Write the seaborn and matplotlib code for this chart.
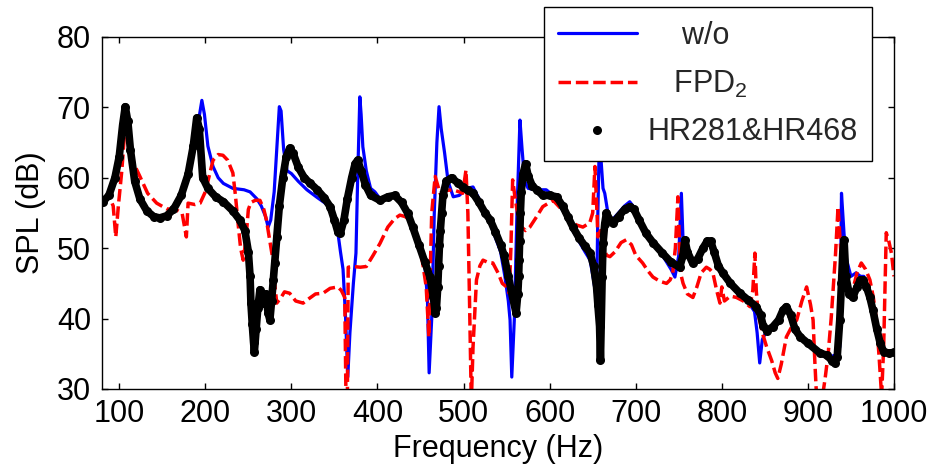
import matplotlib
matplotlib.use("Agg")
import matplotlib.pyplot as plt
import seaborn as sns
from matplotlib.lines import Line2D

# ---------------- data ----------------
freq_wo = [81, 88, 95, 100, 104, 107, 110, 113, 118, 124, 132, 140, 147, 155, 163, 172, 180, 186, 192, 196,
           199, 203, 209, 215, 221, 232, 245, 252, 260, 265, 270, 273, 276, 280, 283, 286, 288, 291, 295, 300,
           308, 318, 330, 345, 350, 354, 357, 360, 363, 365.5, 368, 372, 375, 377, 379.5, 381, 383, 387, 392, 397,
           403, 412, 420, 428, 435, 441, 448, 455, 458, 460, 463, 466, 469, 471.5, 474, 478, 482, 488, 495, 504,
           511, 518, 525, 531, 537, 543, 548, 552, 554, 556, 559, 562, 565.5, 568, 571, 575, 585, 596, 604, 612,
           620, 627, 634, 641, 647, 651, 654.5, 656, 658, 660, 662, 664, 667, 670, 674, 680, 687, 693, 698, 704,
           712, 720, 731, 741, 745.5, 750, 753, 755, 757, 760, 766, 772, 778, 783, 787, 791, 796, 801, 810, 821,
           830, 838, 841, 844, 847, 852, 859, 866, 871, 875, 880, 885, 891, 900, 914, 925, 935, 937, 939, 942,
           945, 950, 956, 961, 965, 968, 972, 975.5, 980, 984, 988, 994, 1000]
spl_wo = [56.6, 57.5, 60, 63, 67.5, 70.3, 68, 64, 59.5, 57, 55.3, 54.5, 54.3, 54.6, 55.5, 57.5, 60.5, 64, 68, 71,
          69, 64.5, 61.6, 60, 59.2, 58.5, 58.3, 58, 57, 56, 54.5, 53, 54, 58, 64, 70.1, 69.5, 64, 61, 60.6,
          59.5, 58.3, 57.2, 55.9, 54, 52.2, 49.5, 47, 40, 31.7, 38, 45, 49.3, 60, 71.5, 69, 64.4, 61, 58.5, 58,
          57, 57.3, 57.5, 56.5, 55, 53, 50.5, 47.5, 43, 32.3, 40, 55, 65, 70.1, 67, 63.5, 59.5, 57.3, 57.5, 58.5,
          58.7, 57, 55, 53.5, 51.5, 49.5, 46, 42.5, 39.8, 31.7, 40, 55, 68.2, 64, 59.5, 58.5, 58.3, 58.3, 57.5, 56,
          54.5, 52.5, 51, 49.5, 48.3, 45.5, 42.6, 55, 67, 62, 58.5, 57.8, 55.5, 54, 54.2, 55, 56, 56.6, 55.8, 54,
          52.1, 50.8, 49, 47, 45.9, 49, 57.8, 51, 50, 49, 47.9, 48.5, 50, 51, 51, 49.5, 47.5, 46.5, 45, 43.6,
          42.5, 41, 38, 33.7, 37, 38.3, 38.8, 39.8, 41.2, 41.7, 40.5, 38.5, 37.4, 36.5, 35.1, 34.5, 35, 36, 57.8, 52,
          48.3, 46, 46.5, 46, 46, 44.5, 43, 41.2, 38.5, 36.5, 35.3, 35.1, 35.2]

freq_fpd = [81, 88, 93, 96, 99, 103, 106, 108, 111, 117, 124, 133, 143.5, 155, 167, 173, 176, 178, 180, 188,
            194, 200, 205, 209, 215, 220.5, 226, 232, 235, 238, 241, 244, 247, 250, 253, 258, 263.5, 268, 271, 275,
            278.6, 281, 283, 288, 292, 298, 305, 313.6, 320, 328, 336.7, 345, 354, 358, 362, 363.5, 365, 366, 372, 380,
            387, 395, 403, 412, 420, 426, 432, 437.7, 443, 449, 453, 456.6, 459.7, 461, 463, 467, 472.6, 480, 487.7, 495,
            499, 502.8, 505, 507, 509, 511, 515, 519, 522.6, 528, 534, 540, 545, 550, 553, 555, 557, 560, 564, 567.5,
            572, 577, 585, 592, 604, 614, 623.5, 631, 638.6, 646.6, 650, 652.6, 655, 656, 659, 662, 666, 670, 676, 683,
            689, 695, 700, 708, 714, 720, 728, 735.8, 740, 743, 746, 749, 751, 753, 755, 760, 766.4, 771, 776, 782,
            786, 789.6, 794, 797.8, 800, 803, 810, 817, 825, 832.6, 836, 838.4, 840, 842, 847, 852, 858, 862, 865, 869,
            875, 881, 887, 893, 898.5, 903, 906, 908, 910, 917, 920, 923.6, 927, 929, 932, 935, 938, 940.6, 944, 948.7,
            953, 957, 962, 967, 972, 976, 979.7, 983, 985.6, 988, 991, 994, 997, 1000]
spl_fpd = [56.6, 57.5, 56, 51.6, 56, 61, 66, 67.5, 66, 62, 60.2, 57.8, 56.4, 55.6, 55.4, 55, 53, 51.6, 56.4, 56.2,
           56.4, 58, 60.5, 62.5, 63.3, 63.2, 62.5, 60.7, 57.5, 53.6, 50, 48.3, 51, 55.5, 56.5, 56.8, 56.8, 55.5, 54, 51,
           48.3, 44.5, 42.2, 43, 43.8, 43.6, 42.5, 42.2, 42.8, 43.5, 43.6, 44.3, 44.5, 44, 43, 28, 28, 47.3, 47.4, 47.3,
           47.4, 49, 50.7, 53, 54.2, 54.7, 54.5, 54, 52.5, 50.2, 47.5, 44.5, 37.4, 45, 55, 60.2, 57.8, 58.2, 58.3, 58,
           57.8, 61.1, 55, 42, 28, 36, 45.5, 47.5, 48.3, 48, 47.9, 46.5, 45, 44.5, 43.6, 50, 59.7, 57, 54, 53,
           52.5, 53, 54.5, 55.9, 56.8, 55.5, 54, 53.3, 53, 53.6, 55, 61.6, 55, 51.6, 52.5, 50.5, 49, 48.8, 49.5, 50.8,
           51.2, 50.5, 49, 47.9, 46.8, 45.9, 45.3, 45, 45.5, 46.5, 50, 57.3, 50, 46, 45, 43.5, 43, 44.5, 46.5, 47.3,
           47, 46.5, 44, 42.2, 44.5, 42.5, 43.2, 43, 42.5, 41.7, 44, 49.3, 44, 40.8, 38, 36, 34, 32.3, 31.5, 33.5,
           37.4, 38.8, 39.8, 42.5, 44.5, 42, 39.8, 34, 29, 29, 31.5, 35.1, 40, 43.6, 49, 55.9, 50, 45.9, 44.3, 43,
           44.5, 46.5, 47.9, 47, 45.5, 43, 39.8, 34, 29, 36, 52.2, 51, 49.3, 46]

freq_hr = [81, 88, 95, 100, 104, 107, 110, 113, 118, 124, 132, 140, 147, 155, 163, 172, 180, 186, 190, 193,
           197, 203, 212, 221, 232, 240, 246, 250, 252, 253, 254.5, 256, 257, 259, 261, 263.5, 267, 270, 273, 275,
           277, 279, 280.5, 283, 286, 290, 294, 298, 302, 308, 315, 322, 330, 338, 345, 350, 354, 357, 361, 365,
           370, 374, 377, 381, 386, 392, 403, 412, 420, 428, 435, 441, 448, 455, 461, 465, 467, 468.5, 470, 471,
           472, 473, 474.5, 476, 480, 486, 493, 499, 505, 511, 518, 525, 531, 537, 543, 547, 552, 557, 561, 563,
           564, 564.5, 565, 566, 567, 569, 572, 575, 580, 585, 592, 600, 608, 615, 621, 627, 634, 641, 647, 651,
           654.5, 656, 658, 659, 661, 662, 664, 666, 670, 674, 680, 687, 693, 698, 704, 712, 720, 731, 741, 751,
           755, 757, 760, 766, 772, 778, 783, 787, 791, 796, 801, 810, 821, 830, 840, 845, 848, 852, 859, 866,
           871, 875, 880, 885, 891, 900, 914, 922, 928, 931, 934, 937, 939, 940.5, 942, 944, 948, 952, 957, 961,
           964, 968, 972, 975.5, 980, 984, 988, 994, 1000]
spl_hr = [56.6, 57.5, 60, 63, 67.5, 70.1, 68, 64, 59.5, 57, 55.3, 54.5, 54.3, 54.6, 55.5, 57.5, 60.5, 64.5, 68.5, 67,
          60, 58.5, 57.3, 56.6, 55.3, 54, 52.5, 49.5, 46, 42.2, 39.3, 36.7, 35.3, 38.5, 41.5, 44.1, 42.2, 43.5, 40.8, 39.8,
          42.5, 45.5, 47.9, 51.6, 56, 60, 63, 64.2, 63.5, 61.5, 60, 59.2, 58.3, 57.2, 55.9, 54, 52.3, 52.2, 54, 57,
          60, 62, 62.5, 61, 59, 57.5, 56.8, 57.3, 57.5, 56.5, 55, 53, 50.5, 48, 45.9, 43, 40.8, 41.5, 44.5, 47.5,
          50.5, 52.5, 55, 57.5, 59.5, 60, 59.3, 58.7, 58.2, 57.8, 56.5, 55, 54, 52.3, 50.5, 49, 46, 43, 40.8, 43.5,
          46, 48.3, 51, 55, 58, 60.5, 62, 60.3, 58.8, 58.3, 57.5, 57.5, 57.3, 56, 54.5, 53, 51.5, 50.3, 49.3, 47.5,
          44.5, 42, 38.9, 34.1, 45.9, 50.7, 53.5, 55, 54, 53.6, 54.5, 55.5, 55.9, 55.5, 54, 52.1, 50.8, 49.3, 48, 47.3,
          49, 51.2, 49.5, 47.9, 48.5, 50, 51, 51, 49.5, 47.5, 46.5, 45, 43.6, 42.7, 41.7, 40.5, 39, 38.3, 38.8, 39.8,
          41.2, 41.7, 40.5, 38.5, 37.4, 36.5, 35.1, 34.8, 34, 33.7, 34.5, 39.8, 45, 49.3, 51.2, 46, 43.5, 43, 44.5, 45.5,
          45.5, 44.5, 43, 41.2, 38.5, 36.5, 35.3, 35.1, 35.2]

series_labels = ["    w/o", "   FPD$_2$", "HR281&HR468"]
x_ticks = [100, 200, 300, 400, 500, 600, 700, 800, 900, 1000]
y_ticks = [30, 40, 50, 60, 70, 80]

# ---------------- style ----------------
sns.set_theme(style="white")
plt.rcParams['font.family'] = ['Liberation Sans', 'DejaVu Sans']
plt.rcParams['mathtext.fontset'] = 'custom'
plt.rcParams['mathtext.rm'] = 'Liberation Sans'
plt.rcParams['mathtext.default'] = 'regular'

FS = 22
fig = plt.figure(figsize=(9.33, 4.72), dpi=100)
ax = fig.add_axes([102 / 933, 83 / 472, 792 / 933, 352 / 472])

dash = (0, (3.6, 1.4))
sns.lineplot(x=freq_wo, y=spl_wo, ax=ax, color='#0000ff', lw=2.3, sort=False, estimator=None)
sns.lineplot(x=freq_fpd, y=spl_fpd, ax=ax, color='#ff0000', lw=2.5, linestyle=dash, sort=False, estimator=None)
sns.lineplot(x=freq_hr, y=spl_hr, ax=ax, color='black', lw=5.5, marker='o', markersize=6.5,
             markeredgewidth=0, sort=False, estimator=None,
             solid_capstyle='round', solid_joinstyle='round')

ax.set_xlim(80, 1000)
ax.set_ylim(30, 80)
ax.set_xticks(x_ticks)
ax.set_yticks(y_ticks)
ax.set_xticklabels([str(v) for v in x_ticks])
ax.set_yticklabels([str(v) for v in y_ticks])
ax.tick_params(axis='both', direction='in', length=4, width=1, colors='black',
               bottom=True, left=True, top=True, right=True, labelsize=FS)
ax.tick_params(axis='x', pad=7)
ax.tick_params(axis='y', pad=8)
for s in ax.spines.values():
    s.set_color('black')
    s.set_linewidth(1.0)

ax.set_xlabel("Frequency (Hz)", fontsize=FS, color='black', labelpad=4)
ax.set_ylabel("SPL (dB)", fontsize=FS, color='black', labelpad=8)

h1 = Line2D([], [], color='#0000ff', lw=2.3)
h2 = Line2D([], [], color='#ff0000', lw=2.5, linestyle=dash)
h3 = Line2D([], [], color='black', lw=0, marker='o', markersize=6.5, markeredgewidth=0)
leg = ax.legend([h1, h2, h3], series_labels, loc='upper right',
                bbox_to_anchor=(872 / 933, 1 - 7 / 472), bbox_transform=fig.transFigure,
                borderaxespad=0, frameon=True, fancybox=False, framealpha=1,
                edgecolor='black', handlelength=2.6, handletextpad=0.36,
                borderpad=0.45, labelspacing=0.58, fontsize=FS, numpoints=1)
leg.get_frame().set_linewidth(1.0)
leg.set_zorder(10)

fig.savefig("out.png", dpi=100)
